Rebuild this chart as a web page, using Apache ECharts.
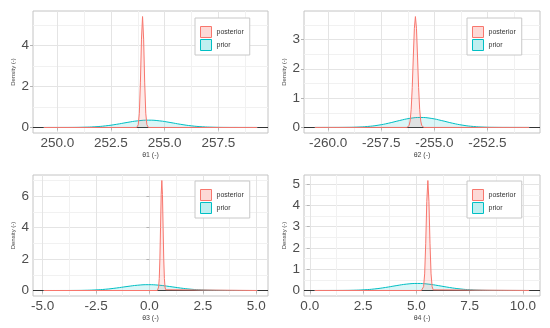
<!DOCTYPE html>
<html>
<head>
<meta charset="utf-8">
<script src="https://cdn.jsdelivr.net/npm/echarts@6/dist/echarts.min.js"></script>
<style>
html,body{margin:0;padding:0;background:#fff;}
#chart{width:550px;height:328px;}
</style>
</head>
<body>
<div id="chart"></div>
<script>
// ---------- data ----------
const axisTitles = ['θ1 (-)', 'θ2 (-)', 'θ3 (-)', 'θ4 (-)'];
const yTitle = 'Density (-)';
const seriesNames = ['posterior', 'prior'];

// panel 1
const xLim1 = [248.87, 259.81];
const yLim1 = [-0.27, 5.67];
const xMajor1 = [250.0, 252.5, 255.0, 257.5];
const xGrid1 = [250, 251.25, 252.5, 253.75, 255, 256.25, 257.5, 258.75];
const yMajor1 = [0, 2, 4];
const yGrid1 = [0, 1, 2, 3, 4, 5];
const prior1X = [249.37, 250.25, 250.75, 251.25, 251.75, 252.25, 252.75, 253.25, 253.75, 254.25, 254.75, 255.25, 255.75, 256.25, 256.75, 257.25, 257.75, 258.25, 259.31];
const prior1Y = [0, 0.001, 0.003, 0.012, 0.033, 0.078, 0.151, 0.243, 0.323, 0.355, 0.323, 0.243, 0.151, 0.078, 0.033, 0.012, 0.003, 0.001, 0];
const post1X = [249.37, 253.70, 253.77, 253.82, 253.87, 253.92, 253.97, 254.02, 254.07, 254.12, 254.17, 254.24, 259.31];
const post1Y = [0, 0, 0.14, 0.69, 2.17, 4.30, 5.40, 4.30, 2.17, 0.69, 0.14, 0, 0];

// panel 2
const xLim2 = [-261.14, -250.02];
const yLim2 = [-0.19, 3.97];
const xMajor2 = [-260.0, -257.5, -255.0, -252.5];
const xGrid2 = [-260, -258.75, -257.5, -256.25, -255, -253.75, -252.5, -251.25];
const yMajor2 = [0, 1, 2, 3];
const yGrid2 = [0, 0.5, 1, 1.5, 2, 2.5, 3, 3.5];
const prior2X = [-260.63, -259.65, -259.15, -258.65, -258.15, -257.65, -257.15, -256.65, -256.15, -255.65, -255.15, -254.65, -254.15, -253.65, -253.15, -252.65, -252.15, -251.65, -250.53];
const prior2Y = [0, 0.001, 0.003, 0.011, 0.032, 0.075, 0.145, 0.233, 0.309, 0.340, 0.309, 0.233, 0.145, 0.075, 0.032, 0.011, 0.003, 0.001, 0];
const post2X = [-260.63, -256.29, -256.24, -256.19, -256.14, -256.09, -256.04, -255.99, -255.94, -255.89, -255.84, -255.79, -255.74, -255.69, -255.64, -255.59, -255.54, -255.49, -250.53];
const post2Y = [0, 0, 0.01, 0.06, 0.22, 0.62, 1.36, 2.40, 3.38, 3.78, 3.38, 2.40, 1.36, 0.62, 0.22, 0.06, 0.01, 0, 0];

// panel 3
const xLim3 = [-5.45, 5.55];
const yLim3 = [-0.35, 7.35];
const xMajor3 = [-5.0, -2.5, 0.0, 2.5, 5.0];
const xGrid3 = [-5, -3.75, -2.5, -1.25, 0, 1.25, 2.5, 3.75, 5];
const yMajor3 = [0, 2, 4, 6];
const yGrid3 = [0, 1, 2, 3, 4, 5, 6, 7];
const prior3X = [-4.95, -4.05, -3.55, -3.05, -2.55, -2.05, -1.55, -1.05, -0.55, -0.05, 0.45, 0.95, 1.45, 1.95, 2.45, 2.95, 3.45, 3.95, 5.05];
const prior3Y = [0, 0.001, 0.004, 0.012, 0.035, 0.081, 0.158, 0.253, 0.337, 0.370, 0.337, 0.253, 0.158, 0.081, 0.035, 0.012, 0.004, 0.001, 0];
const post3X = [-4.95, 0.37, 0.40, 0.43, 0.46, 0.49, 0.52, 0.55, 0.58, 0.61, 0.64, 0.67, 0.70, 0.73, 0.76, 0.79, 5.05];
const post3Y = [0, 0, 0.05, 0.22, 0.76, 2.01, 4.02, 6.10, 7.00, 6.10, 4.02, 2.01, 0.76, 0.22, 0.05, 0, 0];

// panel 4
const xLim4 = [-0.27, 10.8];
const yLim4 = [-0.26, 5.43];
const xMajor4 = [0.0, 2.5, 5.0, 7.5, 10.0];
const xGrid4 = [0, 1.25, 2.5, 3.75, 5, 6.25, 7.5, 8.75, 10];
const yMajor4 = [0, 1, 2, 3, 4, 5];
const yGrid4 = [0, 0.5, 1, 1.5, 2, 2.5, 3, 3.5, 4, 4.5, 5];
const prior4X = [0.23, 1.05, 1.55, 2.05, 2.55, 3.05, 3.55, 4.05, 4.55, 5.05, 5.55, 6.05, 6.55, 7.05, 7.55, 8.05, 8.55, 9.05, 10.29];
const prior4Y = [0, 0.001, 0.003, 0.011, 0.031, 0.073, 0.141, 0.226, 0.300, 0.330, 0.300, 0.226, 0.141, 0.073, 0.031, 0.011, 0.003, 0.001, 0];
const post4X = [0.23, 5.24, 5.29, 5.34, 5.39, 5.44, 5.49, 5.54, 5.59, 5.64, 5.69, 5.74, 5.79, 5.84, 10.29];
const post4Y = [0, 0, 0.03, 0.18, 0.78, 2.22, 4.19, 5.17, 4.19, 2.22, 0.78, 0.18, 0.03, 0, 0];

// ---------- layout / style ----------
const FONT = "'Liberation Sans', Arial, Helvetica, sans-serif";
const RED = '#F8766D', CYAN = '#00BFC4';
const RED_FILL = 'rgba(248,118,109,0.22)', CYAN_FILL = 'rgba(0,191,196,0.2)';
const GRID_MAJOR = '#e4e4e4', GRID_MINOR = '#f1f1f1';
const LABEL_C = '#4d4d4d';

const panels = [
  {xLim: xLim1, yLim: yLim1, xMajor: xMajor1, xGrid: xGrid1, yMajor: yMajor1, yGrid: yGrid1, pX: prior1X, pY: prior1Y, qX: post1X, qY: post1Y, yDec: 0},
  {xLim: xLim2, yLim: yLim2, xMajor: xMajor2, xGrid: xGrid2, yMajor: yMajor2, yGrid: yGrid2, pX: prior2X, pY: prior2Y, qX: post2X, qY: post2Y, yDec: 0},
  {xLim: xLim3, yLim: yLim3, xMajor: xMajor3, xGrid: xGrid3, yMajor: yMajor3, yGrid: yGrid3, pX: prior3X, pY: prior3Y, qX: post3X, qY: post3Y, yDec: 0},
  {xLim: xLim4, yLim: yLim4, xMajor: xMajor4, xGrid: xGrid4, yMajor: yMajor4, yGrid: yGrid4, pX: prior4X, pY: prior4Y, qX: post4X, qY: post4Y, yDec: 0}
];
const gridBoxes = [
  {left: 33, top: 11, width: 235, height: 122},
  {left: 304, top: 11, width: 236, height: 122},
  {left: 33, top: 175, width: 235, height: 121},
  {left: 304, top: 175, width: 236, height: 121}
];
const legendPos = [
  {left: 195, top: 18},
  {left: 467, top: 18},
  {left: 195, top: 181},
  {left: 467, top: 181}
];

const zip = (xs, ys) => xs.map((x, i) => [x, ys[i]]);

const grids = [], xAxes = [], yAxes = [], series = [], legends = [];
panels.forEach((p, i) => {
  grids.push(Object.assign({show: true, borderColor: '#c4c4c4', borderWidth: 1, backgroundColor: 'transparent', containLabel: false}, gridBoxes[i]));
  // grid-line axis (majors + minors alternating)
  xAxes.push({
    gridIndex: i, type: 'value', min: p.xLim[0], max: p.xLim[1], position: 'bottom',
    axisLine: {show: false}, axisTick: {show: false, customValues: p.xGrid},
    axisLabel: {show: false},
    splitLine: {show: true, lineStyle: {color: [GRID_MAJOR, GRID_MINOR], width: 1}}
  });
  // label axis
  xAxes.push({
    gridIndex: i, type: 'value', min: p.xLim[0], max: p.xLim[1], position: 'bottom',
    axisLine: {show: false},
    axisTick: {show: true, customValues: p.xMajor, length: 3, lineStyle: {color: '#b3b3b3', width: 1}},
    axisLabel: {customValues: p.xMajor, formatter: v => v.toFixed(1), fontSize: 13.5, fontFamily: FONT, color: LABEL_C, margin: 3},
    splitLine: {show: false},
    name: axisTitles[i], nameLocation: 'middle', nameGap: 19,
    nameTextStyle: {fontSize: 7, fontFamily: FONT, color: '#444'}
  });
  yAxes.push({
    gridIndex: i, type: 'value', min: p.yLim[0], max: p.yLim[1], position: 'left',
    axisLine: {show: false}, axisTick: {show: false, customValues: p.yGrid},
    axisLabel: {show: false},
    splitLine: {show: true, lineStyle: {color: [GRID_MAJOR, GRID_MINOR], width: 1}}
  });
  yAxes.push({
    gridIndex: i, type: 'value', min: p.yLim[0], max: p.yLim[1], position: 'left',
    axisLine: {show: false},
    axisTick: {show: true, customValues: p.yMajor, length: 3, lineStyle: {color: '#b3b3b3', width: 1}},
    axisLabel: {customValues: p.yMajor, formatter: v => v.toFixed(p.yDec), fontSize: 13.5, fontFamily: FONT, color: LABEL_C, margin: 4},
    splitLine: {show: false},
    name: yTitle, nameLocation: 'middle', nameGap: 17,
    nameTextStyle: {fontSize: 6, fontFamily: FONT, color: '#444'}
  });
  series.push({
    type: 'line', name: 'prior', xAxisIndex: 2 * i, yAxisIndex: 2 * i,
    data: zip(p.pX, p.pY), smooth: true, symbol: 'none', showSymbol: false,
    lineStyle: {color: CYAN, width: 1}, itemStyle: {color: CYAN},
    areaStyle: {color: CYAN_FILL}, z: 3, silent: true,
    markLine: {
      silent: true, symbol: 'none', z: 1, animation: false,
      label: {show: false},
      lineStyle: {color: '#333', width: 1, type: 'solid'},
      emphasis: {disabled: true},
      data: [{yAxis: 0}]
    }
  });
  series.push({
    type: 'line', name: 'posterior', xAxisIndex: 2 * i, yAxisIndex: 2 * i,
    data: zip(p.qX, p.qY), smooth: false, symbol: 'none', showSymbol: false,
    lineStyle: {color: RED, width: 1}, itemStyle: {color: RED},
    areaStyle: {color: RED_FILL}, z: 4, silent: true
  });
  legends.push(Object.assign({
    orient: 'vertical', itemWidth: 11, itemHeight: 11, itemGap: 1,
    padding: [8, 6, 4, 5], borderColor: '#c8c8c8', borderWidth: 1, backgroundColor: '#fff',
    textStyle: {fontSize: 7, fontFamily: FONT, color: '#333'},
    selectedMode: false,
    data: [
      {name: 'posterior', icon: 'rect', itemStyle: {color: 'rgba(248,118,109,0.28)', borderColor: RED, borderWidth: 1}},
      {name: 'prior', icon: 'rect', itemStyle: {color: 'rgba(0,191,196,0.25)', borderColor: CYAN, borderWidth: 1}}
    ]
  }, legendPos[i]));
});

const chart = echarts.init(document.getElementById('chart'), null, {renderer: 'canvas'});
chart.setOption({
  animation: false,
  backgroundColor: '#fff',
  textStyle: {fontFamily: FONT},
  grid: grids, xAxis: xAxes, yAxis: yAxes, series: series, legend: legends
});
</script>
</body>
</html>
